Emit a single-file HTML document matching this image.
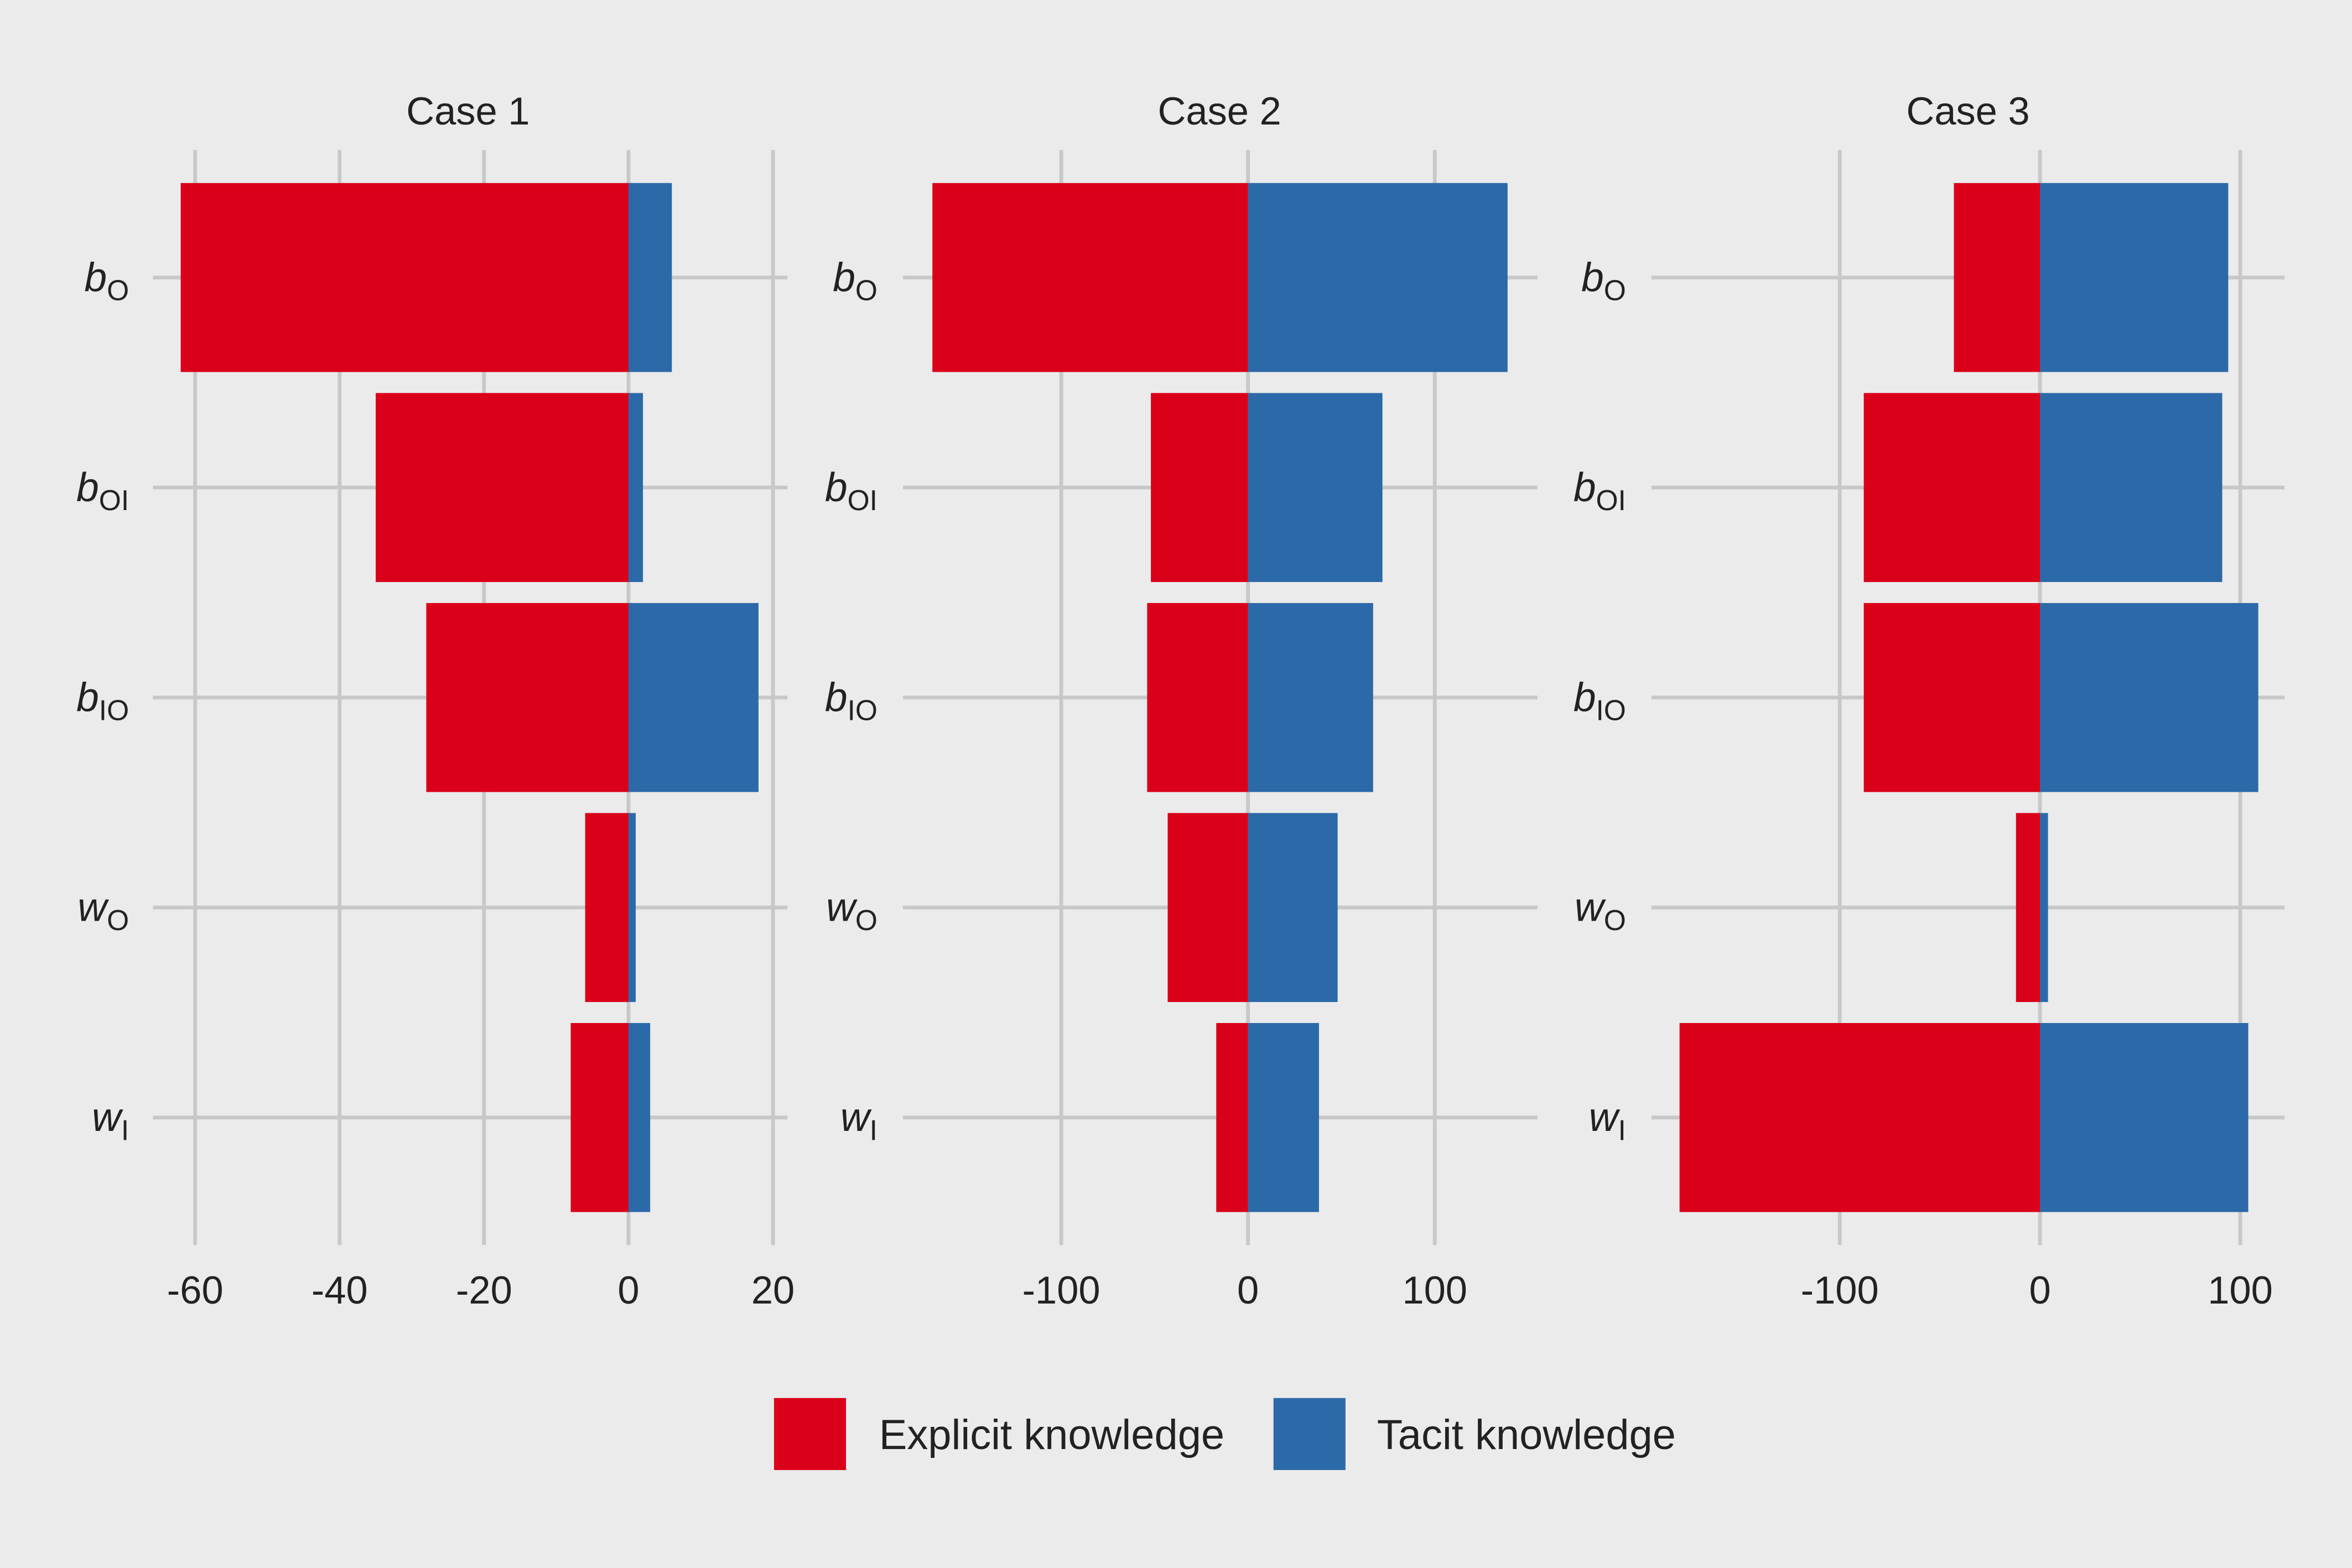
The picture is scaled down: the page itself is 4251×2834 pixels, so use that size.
<!DOCTYPE html>
<html><head><meta charset="utf-8"><style>
html,body{margin:0;padding:0;background:#ebebeb;}
svg{display:block;font-family:"Liberation Sans",sans-serif;}
</style></head><body>
<svg id="chart" width="4251" height="2834" viewBox="0 0 1568 1045.3" xmlns="http://www.w3.org/2000/svg">
<rect x="0" y="0" width="1568" height="1045.3" fill="#ebebeb"/>
<g id="panels"></g>
<g>
<rect x="516" y="932" width="48" height="48" fill="#DA0019"/>
<text x="586" y="966" font-size="28" fill="#222">Explicit knowledge</text>
<rect x="849" y="932" width="48" height="48" fill="#2C69A8"/>
<text x="918" y="966" font-size="28" fill="#222">Tacit knowledge</text>
</g>
</svg>
<script>
const categories = ["bO","bOI","bIO","wO","wI"];
const caseTitles = ["Case 1","Case 2","Case 3"];
const explicit1 = [-62,-35,-28,-6,-8];
const tacit1 = [6,2,18,1,3];
const explicit2 = [-169,-52,-54,-43,-17];
const tacit2 = [139,72,67,48,38];
const explicit3 = [-43,-88,-88,-12,-180];
const tacit3 = [94,91,109,4,104];
const ticks1 = [-60,-40,-20,0,20];
const ticks2 = [-100,0,100];
const ticks3 = [-100,0,100];

const NS="http://www.w3.org/2000/svg";
const panelsG=document.getElementById('panels');
function mk(tag,attrs,parent){const e=document.createElementNS(NS,tag);for(const k in attrs)e.setAttribute(k,attrs[k]);parent.appendChild(e);return e;}
const layouts=[
 {zero:419,ppu:4.815,left:102,right:525,labelX:86,cx:312},
 {zero:832,ppu:1.245,left:602,right:1025,labelX:585,cx:813},
 {zero:1360,ppu:1.335,left:1101,right:1523,labelX:1084,cx:1312}
];
const data=[[explicit1,tacit1,ticks1],[explicit2,tacit2,ticks2],[explicit3,tacit3,ticks3]];
const yCenters=[185,325,465,605,745];
const half=63;
const labelParts={bO:["b","O"],bOI:["b","OI"],bIO:["b","IO"],wO:["w","O"],wI:["w","I"]};
data.forEach((d,pi)=>{
 const L=layouts[pi];
 const x=v=>L.zero+v*L.ppu;
 const g=mk('g',{},panelsG);
 
 
 const t=mk('text',{x:L.cx,y:83,'text-anchor':'middle','font-size':26,fill:'#222'},g);
 
 
 t.textContent=caseTitles[pi];
 d[2].forEach(tv=>{
  const gl=mk('line',{x1:x(tv),x2:x(tv),y1:100,y2:830,stroke:'#c8c8c8','stroke-width':2.5},g);
  
  
  const tl=mk('text',{x:x(tv),y:869,'text-anchor':'middle','font-size':26,fill:'#222'},g);
  
  
  tl.textContent=tv;
 });
 categories.forEach((c,ci)=>{
  const y=yCenters[ci];
  const hl=mk('line',{x1:L.left,x2:L.right,y1:y,y2:y,stroke:'#c8c8c8','stroke-width':2.5},g);
  
  
  const lab=mk('text',{x:L.labelX,y:y+9,'text-anchor':'end','font-size':27,fill:'#222'},g);
  
  
  const p=labelParts[c];
  const s1=mk('tspan',{'font-style':'italic'},lab);s1.textContent=p[0];
  const s2=mk('tspan',{'font-size':19,dy:6},lab);s2.textContent=p[1];
 });
 categories.forEach((c,ci)=>{
  const y=yCenters[ci];
  const e=d[0][ci], tc=d[1][ci];
  const r1=mk('rect',{x:Math.min(x(e),x(0)),y:y-half,width:Math.abs(x(e)-x(0)),height:2*half,fill:'#DA0019'},g);
  
  
  const r2=mk('rect',{x:Math.min(x(tc),x(0)),y:y-half,width:Math.abs(x(tc)-x(0)),height:2*half,fill:'#2C69A8'},g);
  
  
 });
});
</script>
</body></html>
